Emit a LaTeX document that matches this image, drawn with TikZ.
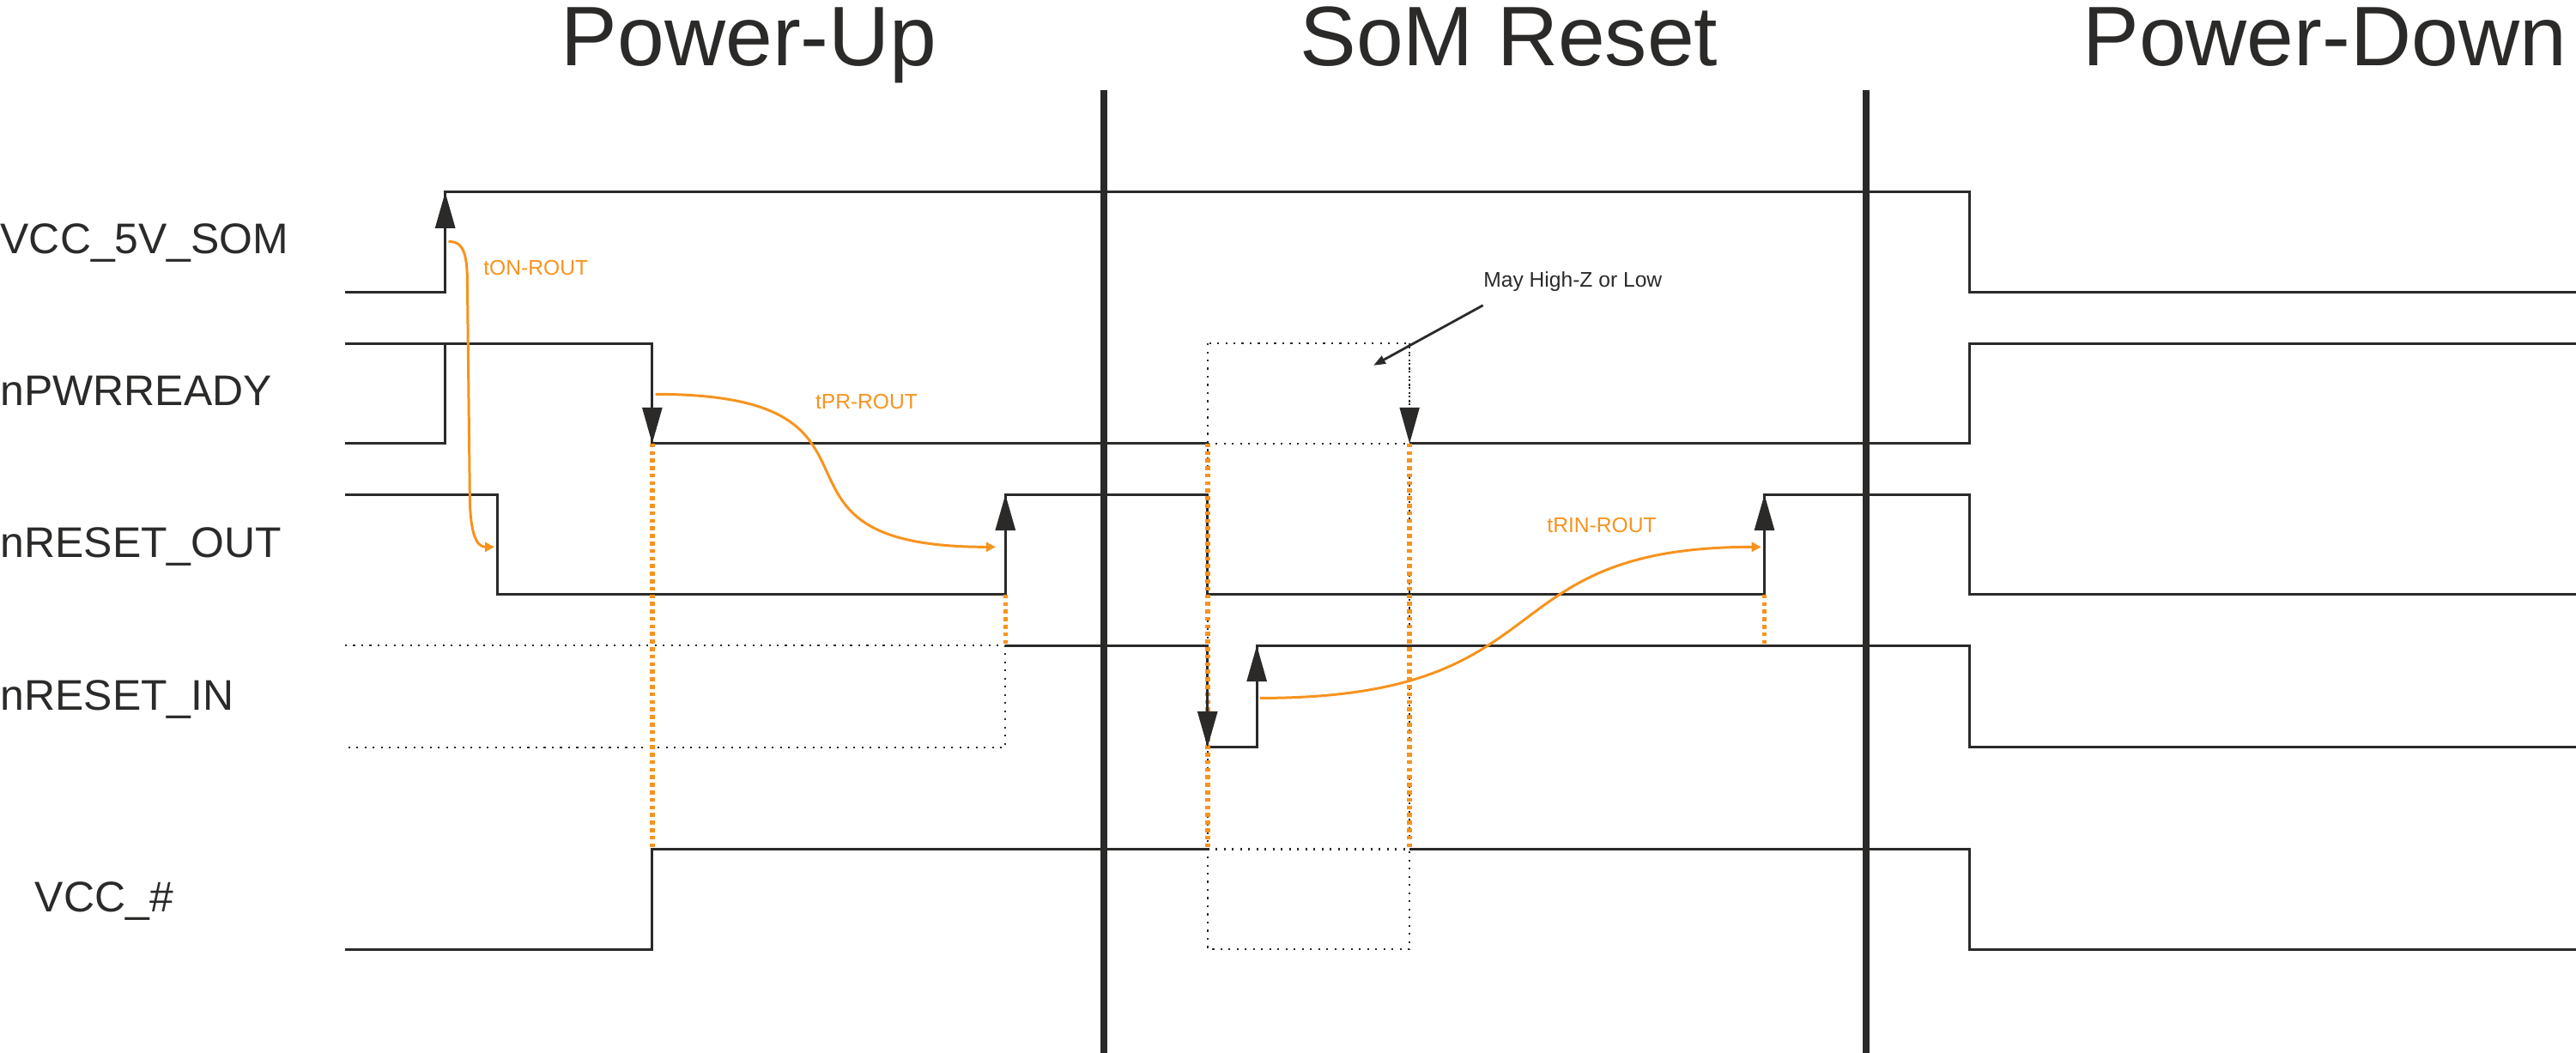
\documentclass[tikz,border=0pt]{standalone}
\usepackage{fontspec}
\setmainfont{Liberation Sans}
\usetikzlibrary{arrows.meta}

\definecolor{wave}{RGB}{43,42,41}
\definecolor{timing}{RGB}{247,147,30}

\begin{document}
\begin{tikzpicture}[x=0.019139cm, y=-0.019139cm,
  every node/.style={inner sep=0pt, text=wave},
  sig/.style={draw=wave, line width=0.85pt},
  hiz/.style={draw=wave, line width=0.6pt, dash pattern=on 0.6pt off 2.1pt},
  edgearrow/.style={draw=wave, line width=0.85pt, -{Triangle[length=0.42cm, width=0.23cm]}},
  delay/.style={draw=timing, line width=0.85pt, -{Triangle[length=0.11cm, width=0.11cm]}},
  guide/.style={draw=timing, line width=1.6pt, dash pattern=on 1.3pt off 1.2pt},
  phase/.style={draw=wave, line width=2.4pt},
  note/.style={draw=wave, line width=0.8pt, -{Triangle[length=0.14cm, width=0.1cm]}},
  title/.style={font=\fontsize{28}{30}\selectfont, anchor=base},
  signame/.style={font=\fontsize{14.2}{16}\selectfont, anchor=base west},
  tlabel/.style={font=\fontsize{7}{8}\selectfont, anchor=base west, text=timing}]
\useasboundingbox (0,0) rectangle (1568,641);

\coordinate (A) at (273,147);
\coordinate (B) at (301,333);
\coordinate (C) at (399,240);
\coordinate (D) at (606,333);
\coordinate (E) at (767,425);
\coordinate (F) at (1072,333);
\coordinate (G) at (836,222.5);

\node[title] (pu) at (456,40) {Power-Up};
\node[title] (sr) at (918.5,40) {SoM Reset};
\node[title] (pd) at (1415,40) {Power-Down};

\node[signame] (vsom) at (0,154.5) {VCC\_5V\_SOM};
\node[signame] (pwr) at (0,247) {nPWRREADY};
\node[signame] (rout) at (0,339.6) {nRESET\_OUT};
\node[signame] (rin) at (0,432.6) {nRESET\_IN};
\node[signame] (vcc) at (21,555) {VCC\_\#};

\draw[phase] (672,55) -- (672,641);
\draw[phase] (1136,55) -- (1136,641);

\draw[sig] (210,178) -- (271,178) -- (271,117) -- (1199,117) -- (1199,178) -- (1568,178);  %VCC_5V_SOM
\draw[sig] (210,270) -- (271,270) -- (271,209);
\draw[sig] (210,209) -- (397,209) -- (397,270) -- (735,270);
\draw[sig] (858,270) -- (1199,270) -- (1199,209) -- (1568,209);
\draw[sig] (210,301) -- (303,301) -- (303,362) -- (612,362) -- (612,301) -- (735,301) -- (735,362)
  -- (1074,362) -- (1074,301) -- (1199,301) -- (1199,362) -- (1568,362);
\draw[hiz] (210,393) -- (612,393) -- (612,455) -- (210,455);
\draw[sig] (612,393) -- (735,393) -- (735,455) -- (765,455) -- (765,393) -- (1199,393) -- (1199,455) -- (1568,455);
\draw[sig] (210,578) -- (397,578) -- (397,517) -- (735,517);
\draw[sig] (858,517) -- (1199,517) -- (1199,578) -- (1568,578);

\draw[hiz] (735,209) rectangle (858,578);
\draw[hiz] (735,270) -- (858,270);
\draw[hiz] (735,517) -- (858,517);

\draw[guide] (397,270) -- (397,517);
\draw[guide] (612,362) -- (612,393);
\draw[guide] (735,270) -- (735,517);
\draw[guide] (858,270) -- (858,517);
\draw[guide] (1074,362) -- (1074,393);

\draw[edgearrow] (271,150) -- (271,117);
\draw[edgearrow] (397,235) -- (397,270);
\draw[edgearrow, hiz] (858,209) -- (858,270);
\draw[edgearrow] (612,340) -- (612,301);
\draw[edgearrow] (1074,340) -- (1074,301);
\draw[edgearrow] (735,420) -- (735,455);
\draw[edgearrow] (765,430) -- (765,393);

\draw[delay] (A) .. controls (283,147) and (284.5,156) .. (284.5,175) -- (286,305) .. controls (286.5,325) and (290,333) .. (B);
\draw[delay] (C) .. controls (562,240) and (446,333) .. (D);
\draw[delay] (E) .. controls (955,425) and (902,333) .. (F);

\node[tlabel] (ton) at (294,167.5) {tON-ROUT};
\node[tlabel] (tpr) at (496,249) {tPR-ROUT};
\node[tlabel] (trin) at (941.4,324) {tRIN-ROUT};
\node[tlabel, text=wave] (hz) at (902.7,175) {May High-Z or Low};
\draw[note] ([yshift=-0.15cm]hz.south west) -- (G);
\end{tikzpicture}
\end{document}
